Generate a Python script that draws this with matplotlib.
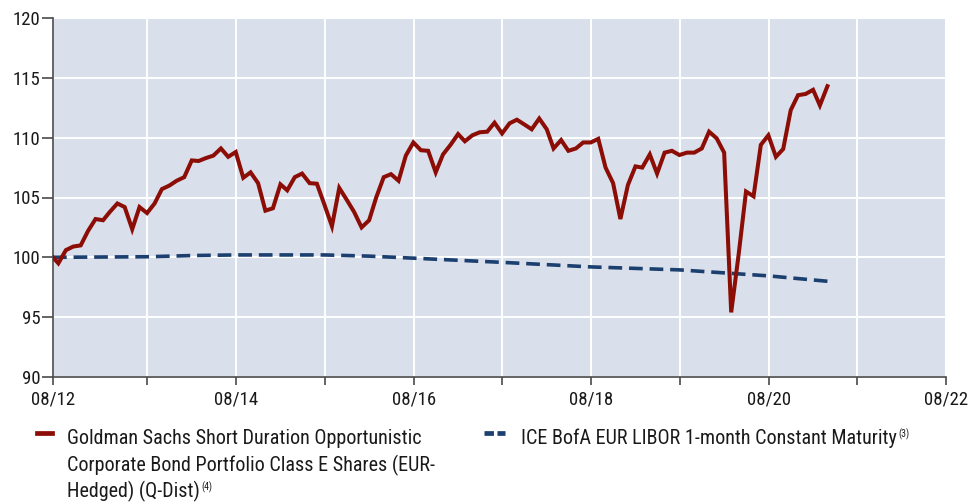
import matplotlib
matplotlib.use("Agg")
import matplotlib.pyplot as plt
from matplotlib.lines import Line2D
from matplotlib import font_manager
import pandas as pd

names = {f.name for f in font_manager.fontManager.ttflist}
FONT = next((n for n in ["Liberation Sans Narrow", "Roboto Condensed", "Roboto", "Liberation Sans"] if n in names), "DejaVu Sans")
plt.rcParams['font.family'] = [FONT, 'DejaVu Sans']

# ---- data ----
inception = "2012-07-09"
fund_values = [
    100.0, 99.5, 100.6, 100.9, 101.0, 102.2, 103.2, 103.1, 103.8, 104.5,
    104.2, 102.35, 104.2, 103.7, 104.5, 105.7, 106.0, 106.4, 106.7, 108.1,
    108.05, 108.3, 108.5, 109.1, 108.4, 108.8, 106.65, 107.1, 106.2, 103.9,
    104.1, 106.1, 105.6, 106.7, 107.0, 106.2, 106.15, 104.4,
    102.6, 105.8, 104.8, 103.8, 102.5, 103.1, 105.0, 106.7, 106.95, 106.4,
    108.5, 109.6, 108.95, 108.9, 107.1, 108.6, 109.4, 110.3, 109.7, 110.2,
    110.45, 110.5, 111.25, 110.35, 111.2, 111.5, 111.1, 110.7, 111.6, 110.7,
    109.1, 109.8, 108.9, 109.1, 109.6, 109.6, 109.9, 107.5, 106.2, 103.2,
    106.05, 107.6, 107.5,
    108.6, 107.0, 108.75, 108.9, 108.55, 108.75, 108.75, 109.1, 110.5, 109.95,
    108.75, 95.4, 100.3, 105.5, 105.1, 109.4, 110.2, 108.4, 109.05, 112.3,
    113.55, 113.65, 114.0, 112.7, 114.3,
]
fund_dates = [pd.Timestamp(inception)] + list(
    pd.date_range("2012-07-31", periods=len(fund_values) - 1, freq="ME"))

bench_dates = pd.to_datetime([
    inception, "2013-08-01", "2014-02-01", "2014-08-01", "2015-08-01",
    "2016-02-01", "2016-08-01", "2017-08-01", "2018-08-01", "2019-08-01",
    "2020-08-01", "2021-03-31",
])
bench_values = [100.0, 100.05, 100.15, 100.2, 100.2, 100.1, 99.93, 99.58,
                99.2, 98.95, 98.45, 98.0]

fund_label_lines = ["Goldman Sachs Short Duration Opportunistic",
                    "Corporate Bond Portfolio Class E Shares (EUR-",
                    "Hedged) (Q-Dist)"]
fund_sup = "(4)"
bench_label = "ICE BofA EUR LIBOR 1-month Constant Maturity"
bench_sup = "(3)"

y_ticks = [90, 95, 100, 105, 110, 115, 120]
x_tick_dates = [pd.Timestamp(inception)] + [pd.Timestamp(f"{y}-08-01") for y in range(2013, 2023)]
x_tick_labels = ["08/12", "", "08/14", "", "08/16", "", "08/18", "", "08/20", "", "08/22"]

# ---- style ----
RED = "#8B0D06"
NAVY = "#1B3F6F"
BG = "#DAE0EB"
TXT = "#1a1a1a"

fig = plt.figure(figsize=(9.77, 5.03), dpi=100)
ax = fig.add_axes([53/977, 1 - 377/503, 893/977, 359/503])
ax.set_facecolor(BG)

ax.plot(bench_dates, bench_values, color=NAVY, lw=2.6, dashes=(3.8, 1.9),
        zorder=3)
ax.plot(fund_dates, fund_values, color=RED, lw=2.9, zorder=4,
        solid_joinstyle='miter')

ax.set_ylim(90, 120)
ax.set_yticks(y_ticks)
ax.set_xlim(pd.Timestamp(inception), pd.Timestamp("2022-08-01"))
ax.set_xticks(x_tick_dates)
ax.set_xticklabels(x_tick_labels)

ax.grid(True, color="white", lw=1.4, zorder=1)
ax.set_axisbelow(True)
for s in ["top", "right"]:
    ax.spines[s].set_visible(False)
for s in ["left", "bottom"]:
    ax.spines[s].set_color("#4a4a4a")
    ax.spines[s].set_linewidth(1.2)
ax.tick_params(axis="both", width=1.2, color="#4a4a4a", labelcolor=TXT)
ax.tick_params(axis="y", length=8, pad=1, labelsize=13.5)
ax.tick_params(axis="x", length=6, pad=4, labelsize=13.5)

# ---- legend ----
LFS = 14.5
LINE_STEP = 26  # px between legend text lines
renderer = fig.canvas.get_renderer()

fig.add_artist(Line2D([37/977, 52/977], [1 - 433/503] * 2, color=RED, lw=3.4))
fund_texts = []
for i, line in enumerate(fund_label_lines):
    fund_texts.append(fig.text(67/977, 1 - (429 + i * LINE_STEP)/503, line,
                               fontsize=LFS, color=TXT, va="top", ha="left"))
fig.add_artist(Line2D([484/977, 505/977], [1 - 433/503] * 2, color=NAVY,
                      lw=3.4, dashes=(2.0, 0.75)))
t2 = fig.text(521/977, 1 - 429/503, bench_label, fontsize=LFS, color=TXT,
              va="top", ha="left")

bb1 = fund_texts[-1].get_window_extent(renderer)
bb2 = t2.get_window_extent(renderer)
fig.text((bb1.x1 + 1.5) / 977, (bb1.y0 + bb1.height * 0.45) / 503, fund_sup,
         fontsize=7, color=TXT, ha="left", va="bottom")
fig.text((bb2.x1 + 1.5) / 977, (bb2.y0 + bb2.height * 0.45) / 503, bench_sup,
         fontsize=7, color=TXT, ha="left", va="bottom")

fig.savefig("out.png", dpi=100)
